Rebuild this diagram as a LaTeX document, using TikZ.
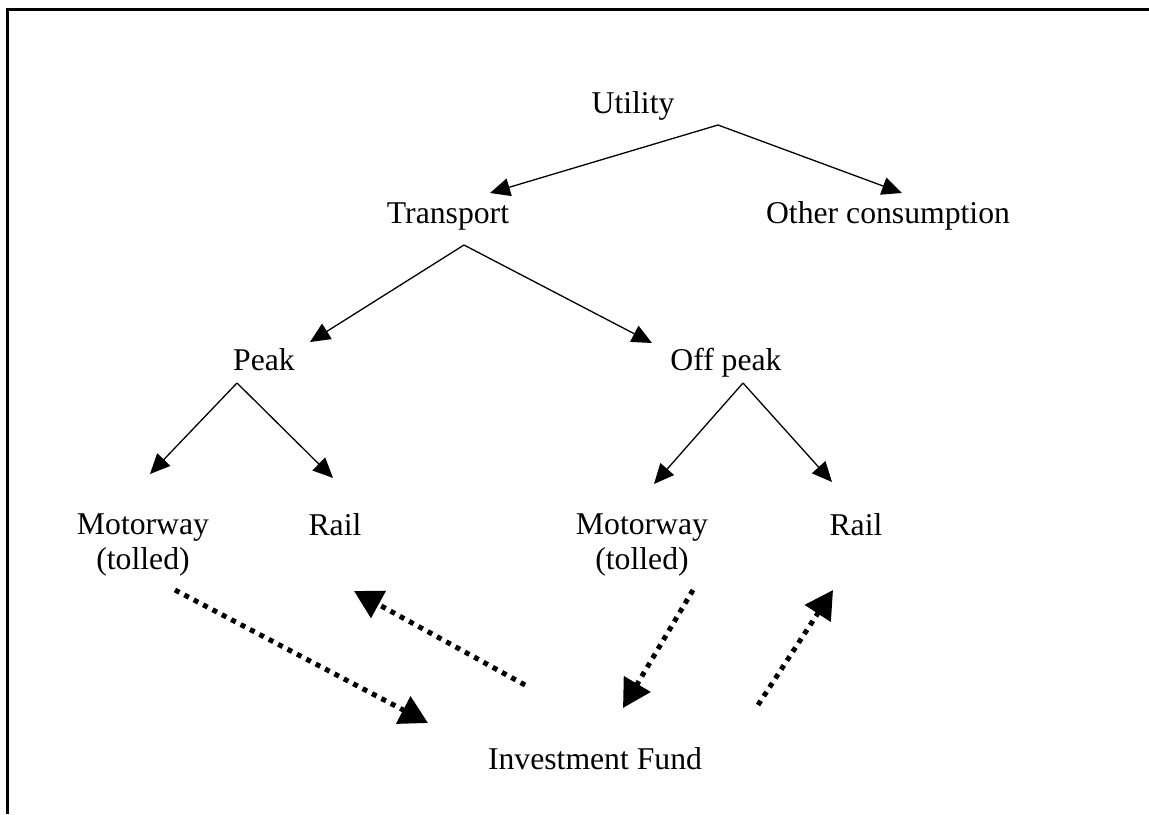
\documentclass[tikz,border=0pt]{standalone}
\usepackage{fontspec}
\setmainfont{Liberation Serif}
\usetikzlibrary{arrows.meta, calc}

\begin{document}
\begin{tikzpicture}[x=0.5pt, y=-0.5pt,
		lbl/.style={anchor=base, inner sep=0pt, align=center, font=\fontsize{15.85pt}{17.5pt}\selectfont},
		link/.style={line width=0.65pt, -{Triangle[length=10pt, width=9pt]}},
		fundlink/.style={line width=2.5pt, dash pattern=on 2.5pt off 2.8pt, -{Triangle[length=14pt, width=15pt]}}
	]
	\useasboundingbox (0,0) rectangle (1149,814);
	\draw[line width=1.5pt] (7,814) -- (7,9) -- (1149,9);
	
	% text of the tree
	\node[lbl] (util) at (633,113) {Utility};
	\node[lbl] (trans) at (448,223) {Transport};
	\node[lbl] (other) at (888,223) {Other consumption};
	\node[lbl] (peak) at (264,370) {Peak};
	\node[lbl] (offpeak) at (726,370) {Off peak};
	\node[lbl] (motA) at (143,569) {Motorway\\(tolled)};
	\node[lbl] (railA) at (335,535) {Rail};
	\node[lbl] (motB) at (642,569) {Motorway\\(tolled)};
	\node[lbl] (railB) at (856,535) {Rail};
	\node[lbl] (fund) at (595,769) {Investment Fund};
	
	% where the branches start and end
	\coordinate (U0) at (718,125);
	\coordinate (U1) at (490,193);
	\coordinate (U2) at (902,193);
	\coordinate (T0) at (464,245);
	\coordinate (T1) at (310,342);
	\coordinate (T2) at (652,343);
	\coordinate (P0) at (237,383);
	\coordinate (P1) at (150,474);
	\coordinate (P2) at (333,478);
	\coordinate (O0) at (743,383);
	\coordinate (O1) at (654,484);
	\coordinate (O2) at (832,482);
	
	\draw[link] (U0) -- (U1);
	\draw[link] (U0) -- (U2);
	\draw[link] (T0) -- (T1);
	\draw[link] (T0) -- (T2);
	\draw[link] (P0) -- (P1);
	\draw[link] (P0) -- (P2);
	\draw[link] (O0) -- (O1);
	\draw[link] (O0) -- (O2);
	
	% flows through the fund
	\coordinate (F1a) at (175,590);
	\coordinate (F1b) at (428,723);
	\coordinate (F2a) at (525,685);
	\coordinate (F2b) at (354,591);
	\coordinate (F3a) at (693,590);
	\coordinate (F3b) at (623,708);
	\coordinate (F4a) at (758,705);
	\coordinate (F4b) at (833,590);
	
	\foreach \i in {1,2,3,4}{
		\draw[fundlink] (F\i a) -- (F\i b);
	};
	
\end{tikzpicture}
\end{document}
